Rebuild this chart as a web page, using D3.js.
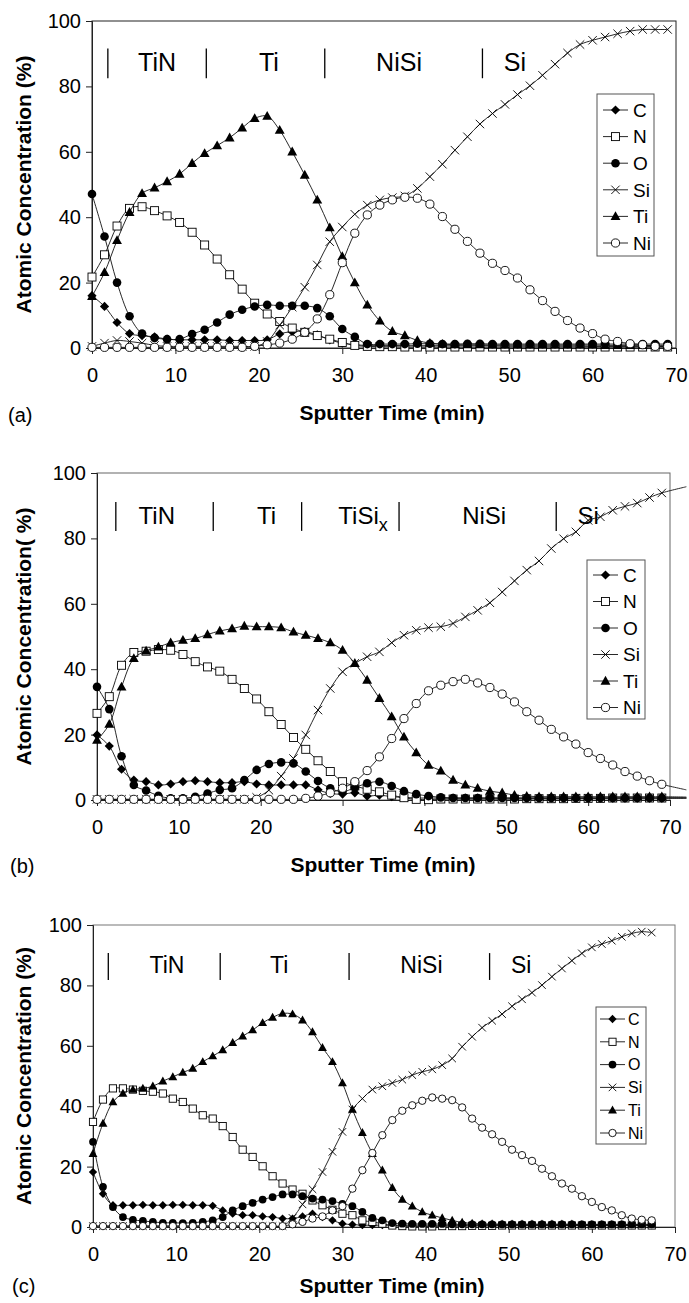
<!DOCTYPE html>
<html><head><meta charset="utf-8">
<script src="https://cdn.jsdelivr.net/npm/d3@7"></script>
<style>
body{margin:0;background:#fff}
svg{display:block;background:#fff}
text{font-family:"Liberation Sans",Arial,Helvetica,sans-serif;fill:#000}
</style>
</head><body>
<svg id="chart" width="689" height="1303"></svg>
<script>
// ---------- DATA ----------
const elements = ["C","N","O","Si","Ti","Ni"];
const xTicks = [0,10,20,30,40,50,60,70];
const yTicks = [0,20,40,60,80,100];

// Panel (a)
const timeA = [0,1.5,3,4.5,6,7.5,9,10.5,12,13.5,15,16.5,18,19.5,21,22.5,24,25.5,27,28.5,30,31.5,33,34.5,36,37.5,39,40.5,42,43.5,45,46.5,48,49.5,51,52.5,54,55.5,57,58.5,60,61.5,63,64.5,66,67.5,69];
const cA  = [16,12.7,7.8,4.4,3.8,3.4,2.7,2.5,2.5,2.5,2.5,2.3,2.3,2.3,2.5,4.3,5.0,5.0,4.0,2.5,1.5,1.0,0.8,0.8,0.8,0.7,0.7,0.7,0.7,0.7,0.7,0.7,0.7,0.6,0.6,0.6,0.6,0.6,0.6,0.6,0.5,0.5,0.5,0.5,0.5,0.5,0.5];
const nA  = [21.7,28.5,37.3,42.7,43.2,42,40.4,38.4,35.4,31.5,27.2,22.4,18,13.7,10.4,8.1,6.1,4.8,3.8,2.7,1.7,0.8,0.5,0.4,0.4,0.3,0.3,0.3,0.3,0.3,0.3,0.3,0.3,0.3,0.3,0.3,0.3,0.3,0.3,0.3,0.3,0.3,0.3,0.3,0.3,0.3,0.3];
const oA  = [47.1,34.1,20,9.7,4.4,3.1,2.7,2.7,4.3,5.6,7.8,10.2,11.7,12.7,13.2,12.9,12.9,12.9,12.2,9.7,5.8,3.4,1.2,1.2,1.2,1.2,1.3,1.3,1.2,1.2,1.3,1.3,1.2,1.2,1.2,1.2,1.2,1.2,1.2,1.2,1.2,1.2,1.2,1.2,1.2,1.2,1.2];
const siA = [0.5,1.5,2.3,2,1.5,0.8,0.5,0.5,0.5,0.5,0.5,0.5,0.5,0.5,2,7,12.5,18.6,25.4,32.5,37,40.9,43.7,45.3,46,46.5,48.8,52.4,56.2,60.5,64.6,68.5,71.7,74.5,77.5,80.2,83.4,86.8,90.2,92.8,94.1,95.1,96.1,96.9,97.4,97.4,97.4];
const tiA = [15.8,23.1,32.9,41.5,47.3,49,50.9,53.2,56.5,59.5,61.9,64.3,67.3,70.2,70.9,66.6,60,52.9,45.3,36.8,28,20,13.2,8.3,5.1,3.8,2.3,1.5,1.2,1.0,1.0,1.0,0.9,0.9,0.9,0.9,0.9,0.9,0.9,0.9,0.9,0.8,0.8,0.8,0.8,0.8,0.8];
const niA = [0.2,0.2,0.2,0.2,0.2,0.2,0.2,0.2,0.2,0.2,0.2,0.2,0.2,0.5,1.0,1.5,2.7,4.8,8.9,16.3,26.1,35.1,40.7,43.7,45.3,46.1,45.8,44,40.2,36.3,32.6,29,25.9,23.7,21.4,17.8,14.5,11.2,8.4,6.1,4.4,2.7,2.0,1.3,1.0,0.5,0.5];
const phaseBarsA = [1.9,13.7,27.9,46.8];
const phaseNamesA = ["TiN","Ti","NiSi","Si"];
const phaseAtA = [7.8,21.2,36.8,50.7];

// Panel (b)  (last point at 72 min lies beyond the axis: line only)
const timeB = [0,1.5,3,4.5,6,7.5,9,10.5,12,13.5,15,16.5,18,19.5,21,22.5,24,25.5,27,28.5,30,31.5,33,34.5,36,37.5,39,40.5,42,43.5,45,46.5,48,49.5,51,52.5,54,55.5,57,58.5,60,61.5,63,64.5,66,67.5,69,72];
const cB  = [19.9,16.5,9.4,6.1,5.6,4.6,4.9,5.6,5.9,5.6,5.3,5.3,5.6,4.9,4.6,4.6,4.6,4.6,3.1,2,1.8,2.2,1.2,1.5,1.0,0.8,0.6,0.6,0.6,0.6,0.6,0.6,0.6,0.6,0.6,0.6,0.6,0.6,0.6,0.6,0.6,0.6,0.6,0.6,0.6,0.6,0.6,0.6];
const nB  = [26.5,31.6,41.2,45.1,45.5,46,45.8,44.5,42.3,40.7,39.4,36.9,34.1,30.9,27,23.1,19.1,15.5,12,8.7,5.6,4.3,3.3,2.5,1.5,0.7,0.2,0.1,0.3,0.3,0.3,0.3,0.3,0.3,0.3,0.4,0.4,0.4,0.4,0.5,0.5,0.5,0.6,0.6,0.6,0.6,0.6,0.6];
const oB  = [34.6,27.8,13.4,4.6,2.9,1.3,0.5,0.5,1.0,2.0,3.1,3.6,6.1,9.2,11,11.5,11.2,8.7,5.8,3.6,2.5,3.8,5.1,5.6,4.3,2.7,1.8,1.2,0.8,0.6,0.6,0.6,0.6,0.6,0.6,0.6,0.6,0.6,0.6,0.6,0.6,0.6,0.6,0.6,0.6,0.6,0.6,0.6];
const siB = [0.2,0.2,0.2,0.2,0.2,0.2,0.2,0.2,0.2,0.2,0.2,0.2,0.2,0.8,3,7.3,12.7,19.9,27.5,34.1,39.2,41.8,43.8,45.3,48.1,50.4,51.9,52.7,53,54,56,58,60.3,63.6,67,70.3,73.1,76.9,79.9,82,85.5,86.6,88.6,89.8,90.8,92.5,93.9,95.8];
const tiB = [18.3,23.2,34.6,43.3,45.6,46.8,48.1,48.9,49.4,50.6,51.7,52.4,53.2,53,53,52.7,51.4,50.4,49.4,48.1,45.8,41.8,36.7,31.1,25.5,19.3,14.5,10.7,8.9,6.1,4.6,3.6,2.7,2.2,1.5,1.2,1.0,1.0,1.0,1.0,1.0,1.0,1.0,1.0,1.0,1.0,1.0,0.9];
const niB = [0.2,0.2,0.2,0.2,0.2,0.2,0.2,0.2,0.2,0.2,0.2,0.2,0.2,0.2,0.2,0.2,0.2,0.5,1.2,2.2,3.6,5.6,9,13.2,18.8,24.9,29.5,33.4,35.1,36.2,36.9,35.8,34.4,32.4,30,27,24.4,21.6,19.3,17.1,14.5,12.7,10.7,8.7,7.3,5.9,4.8,3.1];
const phaseBarsB = [2.3,14.2,25.0,36.9,56.1];
const phaseNamesB = ["TiN","Ti","TiSi","NiSi","Si"];
const phaseAtB = [7.3,20.7,32.5,47.3,60.0];

// Panel (c)
const timeC = [0,1.2,2.4,3.6,4.8,6,7.2,8.4,9.6,10.8,12,13.2,14.4,15.6,16.8,18,19.2,20.4,21.6,22.8,24,25.2,26.4,27.6,28.8,30,31.2,32.4,33.6,34.8,36,37.2,38.4,39.6,40.8,42,43.2,44.4,45.6,46.8,48,49.2,50.4,51.6,52.8,54,55.2,56.4,57.6,58.8,60,61.2,62.4,63.6,64.8,66,67.2];
const cC  = [18.2,11,7.2,7.2,7.2,7.3,7.2,7.2,7.3,7.3,7.2,7.2,7.0,5.5,4.4,3.9,3.9,3.5,3.3,2.8,2.8,3.5,4.4,3.3,2.2,1.1,0.8,0.6,0.6,0.6,0.6,0.6,0.6,0.6,0.6,0.6,0.6,0.6,0.6,0.6,0.6,0.6,0.8,0.6,0.6,0.6,0.6,0.6,0.6,0.6,0.6,0.6,0.6,0.6,0.6,0.6,0.6];
const nC  = [34.8,42.2,45.9,45.9,45.5,45.1,44.8,44.2,42.5,41.4,39.2,37,35.9,33.4,29.8,25.6,23.2,20.1,16.8,14.4,12.4,11,8.8,7.2,5.7,4.4,3.9,2.2,1.7,1.1,0.5,0.3,0.2,0.2,0.2,0.3,0.3,0.3,0.4,0.4,0.4,0.5,0.5,0.5,0.5,0.5,0.5,0.5,0.5,0.5,0.5,0.5,0.5,0.5,0.5,0.5,0.5];
const oC  = [28.2,13.3,6.6,3.3,2.4,2.0,1.7,1.4,1.4,1.3,1.4,1.7,2.2,3.3,5.5,6.9,8,9.1,9.9,10.8,10.8,10.2,9.4,9.1,8.6,7.7,6.9,5,3,2.2,1.3,1.1,1.0,1.0,1.0,1.0,0.9,0.9,0.9,0.9,0.9,0.9,0.9,0.9,0.9,0.9,0.9,0.9,0.9,0.9,0.9,0.9,0.9,0.9,0.9,0.9,0.9];
const siC = [0.3,0.3,0.3,0.3,0.3,0.3,0.3,0.3,0.3,0.3,0.3,0.3,0.3,0.3,0.3,0.3,0.3,0.3,0.3,0.3,3,7.5,12.5,18.2,24.9,31.5,38.9,42.5,45.5,46.6,47.7,48.8,50.3,51.4,52.2,53.6,55.8,59.7,63,66,68.3,70.5,73.1,75.4,77.6,80.1,82.9,85.6,88.2,90.6,92.6,93.7,94.8,96.1,97.2,97.8,97.5];
const tiC = [24.3,34.3,41.4,44.2,45.5,45.9,46.6,48.3,49.7,51.2,52.5,54.7,56.6,58.6,61,63.2,65.2,67.6,69.4,70.7,70.5,68.5,64.6,59.4,54.7,47.7,38.9,31.2,24.3,18.8,13,9.1,6.9,5,3.9,3.0,2.2,1.5,1.2,1.0,1.0,0.9,0.9,0.9,0.9,0.9,0.9,0.9,0.9,0.8,0.8,0.8,0.8,0.8,0.8,0.8,0.8];
const niC = [0.3,0.3,0.3,0.3,0.3,0.3,0.3,0.3,0.3,0.3,0.3,0.3,0.3,0.3,0.3,0.3,0.3,0.3,0.3,0.3,0.9,1.7,2.8,3.5,5.5,6.9,12.7,18.8,24.5,30.4,35.4,38.5,40.3,41.8,42.9,42.5,42,39.6,35.9,32.9,30.7,28.2,25.6,23.8,21.9,19.3,16.8,14.4,12.7,10.2,8.3,6.6,5.5,3.9,2.8,2.4,2.2];
const phaseBarsC = [1.84,15.3,30.8,47.7];
const phaseNamesC = ["TiN","Ti","NiSi","Si"];
const phaseAtC = [8.9,22.4,39.5,51.5];

// ---------- LAYOUT ----------
const panels = [
  {tag:"(a)", time:timeA, vals:[cA,nA,oA,siA,tiA,niA], bars:phaseBarsA, names:phaseNamesA, at:phaseAtA,
   x0:92, x1:676, yTop:21, yBot:348, frame:"#222", yTitle:"Atomic Concentration (%)", xTitle:"Sputter Time (min)",
   xTitleX:392, tagX:8, titleDy:72, tagDy:74, phaseFont:25, barLo:82.5, barHi:91.6, phaseBase:84.8,
   leg:{x:597,y:94,w:57,h:162,row0:110,dy:26.6,lx0:603,lx1:628,tx:633,font:19}, ms:1},
  {tag:"(b)", time:timeB, vals:[cB,nB,oB,siB,tiB,niB], bars:phaseBarsB, names:phaseNamesB, at:phaseAtB,
   x0:97, x1:670, yTop:473, yBot:800, frame:"#666", yTitle:"Atomic Concentration( %)", xTitle:"Sputter Time (min)",
   xTitleX:383, tagX:10, titleDy:72, tagDy:73, phaseFont:24, barLo:82.3, barHi:91.1, phaseBase:84.4,
   leg:{x:587,y:560,w:58,h:159,row0:575,dy:26.5,lx0:593,lx1:618,tx:623,font:19}, ms:1},
  {tag:"(c)", time:timeC, vals:[cC,nC,oC,siC,tiC,niC], bars:phaseBarsC, names:phaseNamesC, at:phaseAtC,
   x0:93, x1:675, yTop:925, yBot:1227, frame:"#777", yTitle:"Atomic Concentration (%)", xTitle:"Sputter Time (min)",
   xTitleX:392, tagX:12, titleDy:66, tagDy:66, phaseFont:23, barLo:81.8, barHi:90.7, phaseBase:84.1,
   leg:{x:596,y:1007,w:50,h:137,row0:1019,dy:22.8,lx0:600,lx1:625,tx:628,font:16}, ms:0.9}
];

const svg = d3.select("#chart");

function drawMarker(g, el, cx, cy, s) {
  const k = s || 1;
  if (el === "C") {
    const r = 4.6*k;
    g.append("path").attr("d",`M${cx},${cy-r}L${cx+r},${cy}L${cx},${cy+r}L${cx-r},${cy}Z`).attr("fill","#000");
  } else if (el === "N") {
    const r = 4*k;
    g.append("rect").attr("x",cx-r).attr("y",cy-r).attr("width",2*r).attr("height",2*r)
      .attr("fill","#fff").attr("stroke","#000").attr("stroke-width",0.9);
  } else if (el === "O") {
    g.append("circle").attr("cx",cx).attr("cy",cy).attr("r",4.3*k).attr("fill","#000");
  } else if (el === "Si") {
    const r = 4.2*k;
    g.append("path").attr("d",`M${cx-r},${cy-r}L${cx+r},${cy+r}M${cx-r},${cy+r}L${cx+r},${cy-r}`)
      .attr("stroke","#000").attr("stroke-width",0.9).attr("fill","none");
  } else if (el === "Ti") {
    const r = 5.2*k;
    g.append("path").attr("d",`M${cx},${cy-r}L${cx+r*0.95},${cy+r*0.7}L${cx-r*0.95},${cy+r*0.7}Z`).attr("fill","#000");
  } else if (el === "Ni") {
    g.append("circle").attr("cx",cx).attr("cy",cy).attr("r",4.1*k)
      .attr("fill","#fff").attr("stroke","#000").attr("stroke-width",0.9);
  }
}

panels.forEach(p => {
  const x = d3.scaleLinear().domain([0,70]).range([p.x0,p.x1]);
  const y = d3.scaleLinear().domain([0,100]).range([p.yBot,p.yTop]);
  const g = svg.append("g");

  // frame
  g.append("rect").attr("x",p.x0).attr("y",p.yTop).attr("width",p.x1-p.x0).attr("height",p.yBot-p.yTop)
    .attr("fill","none").attr("stroke",p.frame).attr("stroke-width",1);

  // y axis
  const yAx = d3.axisLeft(y).tickValues(yTicks).tickSize(6).tickPadding(5).tickFormat(d3.format("d"));
  const ya = g.append("g").attr("transform",`translate(${p.x0},0)`).call(yAx);
  ya.select(".domain").attr("stroke","#222");
  ya.selectAll(".tick line").attr("stroke","#222");
  ya.selectAll(".tick text").attr("font-size",20).attr("font-family","Liberation Sans, Arial, sans-serif").attr("fill","#000");

  // x axis
  const xAx = d3.axisBottom(x).tickValues(xTicks).tickSize(6).tickPadding(14).tickFormat(d3.format("d"));
  const xa = g.append("g").attr("transform",`translate(0,${p.yBot})`).call(xAx);
  xa.select(".domain").attr("stroke","#222");
  xa.selectAll(".tick line").attr("stroke","#222");
  xa.selectAll(".tick text").attr("font-size",20).attr("font-family","Liberation Sans, Arial, sans-serif").attr("fill","#000");

  // titles
  const ymid = (p.yTop+p.yBot)/2;
  g.append("text").attr("transform",`translate(23,${ymid}) rotate(-90)`).attr("text-anchor","middle")
    .attr("dy","0.36em").attr("font-size",21).attr("font-weight","bold").text(p.yTitle);
  g.append("text").attr("x",p.xTitleX).attr("y",p.yBot+p.titleDy).attr("text-anchor","middle")
    .attr("font-size",21).attr("font-weight","bold").text(p.xTitle);
  g.append("text").attr("x",p.tagX).attr("y",p.yBot+p.tagDy).attr("font-size",20).text(p.tag);

  // phase markers
  p.bars.forEach(t => {
    g.append("line").attr("x1",x(t)).attr("x2",x(t)).attr("y1",y(p.barLo)).attr("y2",y(p.barHi))
      .attr("stroke","#000").attr("stroke-width",1.3);
  });
  p.names.forEach((nm,i) => {
    const tx = g.append("text").attr("x",x(p.at[i])).attr("y",y(p.phaseBase)).attr("text-anchor","middle")
      .attr("font-size",p.phaseFont);
    tx.append("tspan").text(nm);
    if (nm === "TiSi") tx.append("tspan").attr("dy",7).attr("font-size",p.phaseFont*0.75).text("x");
  });

  // series
  const line = d3.line().x(d=>x(d[0])).y(d=>y(d[1])).curve(d3.curveCatmullRom.alpha(0.5));
  elements.forEach((el,si) => {
    const pts = p.time.map((t,i)=>[t,p.vals[si][i]]);
    g.append("path").attr("d",line(pts)).attr("fill","none").attr("stroke","#111").attr("stroke-width",0.9);
    const mg = g.append("g");
    pts.filter(d=>d[0]<=70).forEach(d => drawMarker(mg, el, x(d[0]), y(d[1]), p.ms));
  });

  // legend
  const L = p.leg;
  g.append("rect").attr("x",L.x).attr("y",L.y).attr("width",L.w).attr("height",L.h)
    .attr("fill","#fff").attr("stroke","#555").attr("stroke-width",1);
  elements.forEach((el,i) => {
    const ry = L.row0 + i*L.dy;
    g.append("line").attr("x1",L.lx0).attr("x2",L.lx1).attr("y1",ry).attr("y2",ry).attr("stroke","#111").attr("stroke-width",0.9);
    drawMarker(g, el, (L.lx0+L.lx1)/2, ry, p.ms);
    g.append("text").attr("x",L.tx).attr("y",ry).attr("dy","0.36em").attr("font-size",L.font).text(el);
  });
});
</script>
</body></html>
